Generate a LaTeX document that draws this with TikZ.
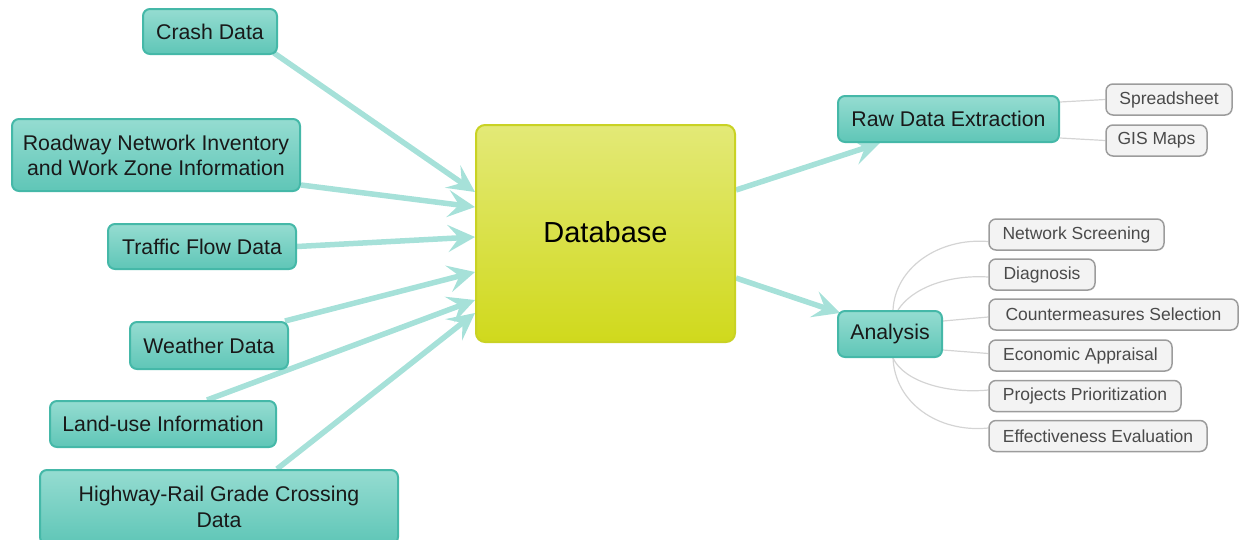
\documentclass[tikz,border=0pt]{standalone}
\usepackage{fontspec}
\setmainfont{Liberation Sans}
\usetikzlibrary{arrows.meta,calc}
\pgfdeclarelayer{bg}
\pgfsetlayers{bg,main}
\definecolor{tealtop}{HTML}{95DCD1}
\definecolor{tealbot}{HTML}{5FC6B7}
\definecolor{tealedge}{HTML}{45B8A8}
\definecolor{arrowc}{HTML}{A6E1D9}
\definecolor{dbtop}{HTML}{E3E977}
\definecolor{dbbot}{HTML}{D0D91C}
\definecolor{dbedge}{HTML}{C9D224}
\definecolor{greyfill}{HTML}{F3F3F3}
\definecolor{greyedge}{HTML}{9C9C9C}
\definecolor{greytext}{HTML}{4A4A4A}
\definecolor{greyline}{HTML}{D4D4D4}
\tikzset{
  tealbox/.style={draw=tealedge, line width=2pt, rounded corners=7pt,
    top color=tealtop, bottom color=tealbot, text=black!90,
    font=\fontsize{21.3}{25}\selectfont, align=center, inner sep=0pt},
  dbbox/.style={draw=dbedge, line width=2pt, rounded corners=9pt,
    top color=dbtop, bottom color=dbbot, text=black,
    font=\fontsize{29}{34}\selectfont, inner sep=0pt},
  greybox/.style={draw=greyedge, line width=1.5pt, rounded corners=7pt,
    fill=greyfill, text=greytext, font=\fontsize{17.5}{21}\selectfont,
    inner sep=0pt, minimum height=31pt},
  flow/.style={draw=arrowc, line width=5.5pt,
    -{Stealth[length=27pt, width=27pt, inset=11pt]}},
  twig/.style={draw=greyline, line width=1.2pt}
}
\begin{document}
\begin{tikzpicture}[x=1pt, y=-1pt]
\useasboundingbox (0,0) rectangle (1239,539);
\clip (0,0) rectangle (1239,539);
% left source nodes
\node[tealbox, minimum width=134pt, minimum height=45pt] (crash) at (210,31.5) {Crash Data};
\node[tealbox, minimum width=288pt, minimum height=72pt] (road) at (156,155) {Roadway Network Inventory\\and Work Zone Information};
\node[tealbox, minimum width=188pt, minimum height=45pt] (traffic) at (202,246.5) {Traffic Flow Data};
\node[tealbox, minimum width=158pt, minimum height=47pt] (weather) at (209,345.5) {Weather Data};
\node[tealbox, minimum width=226pt, minimum height=46pt] (land) at (163,424) {Land-use Information};
\node[tealbox, minimum width=358pt, minimum height=74pt, align=center, font=\fontsize{21.3}{26}\selectfont] (hwy) at (219,507) {Highway-Rail Grade Crossing\\Data};
% database
\node[dbbox, minimum width=259pt, minimum height=217pt] (db) at (605.5,233.5) {};
\node[font=\fontsize{29}{34}\selectfont, inner sep=0pt] (dbl) at (605.5,232) {Database};
% outputs
\node[tealbox, minimum width=221pt, minimum height=46pt] (raw) at (948.5,119) {Raw Data Extraction};
\node[tealbox, minimum width=104pt, minimum height=46pt] (ana) at (890,334) {Analysis};
% grey leaves
\node[greybox, minimum width=126pt] (spread) at (1169,99.5) {Spreadsheet};
\node[greybox, minimum width=101pt] (gis) at (1156.5,140.5) {GIS Maps};
\node[greybox, minimum width=175pt] (ns) at (1076.5,234.5) {Network Screening};
\node[greybox, minimum width=106pt] (diag) at (1042,274.5) {Diagnosis};
\node[greybox, minimum width=249pt] (cm) at (1113.5,314.5) {Countermeasures Selection};
\node[greybox, minimum width=183pt] (econ) at (1080.5,355.5) {Economic Appraisal};
\node[greybox, minimum width=192pt] (proj) at (1085,396) {Projects Prioritization};
\node[greybox, minimum width=218pt] (eff) at (1098,436) {Effectiveness Evaluation};
\begin{pgfonlayer}{bg}
% inflows
\draw[flow] ($(crash.south east)+(-4,-2)$) -- ($(db.west)+(0,-41.5)$);
\draw[flow] ($(road.south east)+(0,-7)$) -- ($(db.west)+(0,-26.5)$);
\draw[flow] (traffic.east) -- ($(db.west)+(0,3.5)$);
\draw[flow] ($(weather.north east)+(-4,0)$) -- ($(db.west)+(0,38.5)$);
\draw[flow] ($(land.north)+(44,0)$) -- ($(db.west)+(0,66.5)$);
\draw[flow] ($(hwy.north)+(58,0)$) -- ($(db.west)+(0,79.5)$);
% outflows
\draw[flow] ($(db.east)+(0,-43.5)$) -- ($(raw.south west)+(43,0)$);
\draw[flow] ($(db.east)+(0,44.5)$) -- ($(ana.north west)+(3,3)$);
% grey twigs
\draw[twig] ($(raw.east)+(0,-17)$) -- (spread.west);
\draw[twig] ($(raw.east)+(0,19)$) -- (gis.west);
\draw[twig] ($(ana.north)+(3,0)$) .. controls ($(ana.north)+(5,-42)$) and ($(ns.west)+(-50,3)$) .. ($(ns.west)+(0,7)$);
\draw[twig] ($(ana.north)+(8,0)$) .. controls ($(ana.north)+(22,-22)$) and ($(diag.west)+(-40,0)$) .. ($(diag.west)+(0,2.5)$);
\draw[twig] ($(ana.east)+(0,-13)$) -- ($(cm.west)+(0,2.5)$);
\draw[twig] ($(ana.east)+(0,16)$) -- ($(econ.west)+(0,-2)$);
\draw[twig] ($(ana.south)+(3,0)$) .. controls ($(ana.south)+(14,24)$) and ($(proj.west)+(-40,-2)$) .. ($(proj.west)+(0,-6)$);
\draw[twig] ($(ana.south)+(3,0)$) .. controls ($(ana.south)+(5,45)$) and ($(eff.west)+(-50,-3)$) .. ($(eff.west)+(0,-8)$);
\end{pgfonlayer}
\end{tikzpicture}
\end{document}
